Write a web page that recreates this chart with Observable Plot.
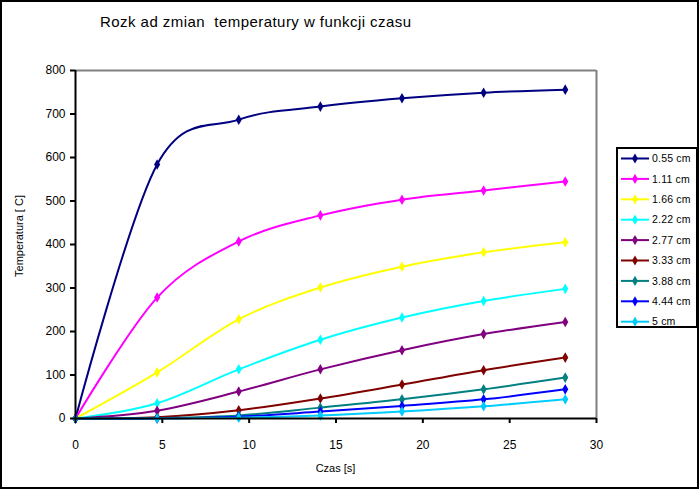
<!DOCTYPE html>
<html><head><meta charset="utf-8">
<script src="https://cdn.jsdelivr.net/npm/d3@7"></script>
<script src="https://cdn.jsdelivr.net/npm/@observablehq/plot@0.6"></script>
<style>body{margin:0;background:#fff} svg{display:block}</style>
</head><body><div id="chart"></div>
<script>
const titleText = "Rozk ad zmian  temperatury w funkcji czasu";
const xLabel = "Czas [s]";
const yLabel = "Temperatura [ C]";
const times = [0, 4.7, 9.4, 14.1, 18.8, 23.5, 28.2];
const seriesNames = ["0.55 cm","1.11 cm","1.66 cm","2.22 cm","2.77 cm","3.33 cm","3.88 cm","4.44 cm","5 cm"];
const s055 = [0, 584, 687, 717, 736, 749, 756];
const s111 = [0, 278, 407, 467, 503, 524, 545];
const s166 = [0, 106, 228, 301, 349, 382, 405];
const s222 = [0, 35, 113, 181, 232, 270, 298];
const s277 = [0, 18, 62, 113, 157, 194, 222];
const s333 = [0, 3, 19, 46, 78, 111, 140];
const s388 = [0, 1, 7, 25, 44, 67, 94];
const s444 = [0, 0, 4, 16, 29, 44, 67];
const s500 = [0, 0, 2, 7, 16, 28, 44];
const seriesValues = [s055, s111, s166, s222, s277, s333, s388, s444, s500];
const colors = ["#000080","#FF00FF","#FFFF00","#00FFFF","#800080","#800000","#008080","#0000FF","#00CCFF"];
const xTicks = [0,5,10,15,20,25,30];
const yTicks = [0,100,200,300,400,500,600,700,800];

const data = [];
seriesNames.forEach((name, i) => {
  seriesValues[i].forEach((v, j) => data.push({series: name, t: times[j], temp: v}));
});

const W = 700, H = 490;
const plot = Plot.plot({
  width: W, height: H,
  marginLeft: 75, marginRight: 104, marginTop: 70, marginBottom: 72,
  style: {fontFamily: "'Liberation Sans', Arial, sans-serif", fontSize: "12px", background: "#fff", color: "#000"},
  x: {domain: [0, 30], label: null},
  y: {domain: [0, 800], label: null},
  color: {domain: seriesNames, range: colors},
  marks: [
    Plot.ruleY([800], {stroke: "#808080", strokeWidth: 2}),
    Plot.ruleX([30], {stroke: "#808080", strokeWidth: 2}),
    Plot.line(data, {x: "t", y: "temp", z: "series", stroke: "series", curve: d3.curveCardinal.tension(0), strokeWidth: 2}),
    Plot.dot(data, {x: "t", y: "temp", fill: "series", symbol: "diamond", r: 3.2}),
    Plot.axisX({ticks: xTicks, tickSize: 5, tickPadding: 17, fontSize: 12, stroke: "#000", strokeWidth: 2}),
    Plot.axisY({ticks: yTicks, tickSize: 5, tickPadding: 5, fontSize: 12, stroke: "#000", strokeWidth: 2}),
    Plot.ruleY([0], {stroke: "#000", strokeWidth: 2}),
    Plot.ruleX([0], {stroke: "#000", strokeWidth: 2})
  ]
});

const svg = d3.select(plot);
const font = "'Liberation Sans', Arial, sans-serif";
svg.append("rect").attr("x", 1).attr("y", 1).attr("width", W - 3).attr("height", H - 3)
  .attr("fill", "none").attr("stroke", "#000").attr("stroke-width", 2);
svg.append("text").attr("x", 100).attr("y", 27).attr("text-anchor", "start").attr("font-family", font)
  .attr("font-size", 15).attr("letter-spacing", 0.45).attr("fill", "#000").text(titleText);
svg.append("text").attr("x", 335.5).attr("y", 472).attr("text-anchor", "middle").attr("font-family", font)
  .attr("font-size", 11).attr("fill", "#000").text(xLabel);
svg.append("text").attr("transform", "translate(23,236) rotate(-90)").attr("text-anchor", "middle")
  .attr("font-family", font).attr("font-size", 11).attr("fill", "#000").text(yLabel);

// legend
const color = plot.scale("color");
const lg = svg.append("g");
lg.append("rect").attr("x", 617).attr("y", 148).attr("width", 80).attr("height", 179)
  .attr("fill", "#fff").attr("stroke", "#000").attr("stroke-width", 2);
seriesNames.forEach((name, i) => {
  const y = 158.5 + i * 20.4;
  const c = colors[color.domain.indexOf(name)];
  lg.append("line").attr("x1", 621).attr("x2", 649).attr("y1", y).attr("y2", y)
    .attr("stroke", c).attr("stroke-width", 2);
  lg.append("path").attr("d", d3.symbol(d3.symbolDiamond, 30)()).attr("transform", `translate(635,${y})`).attr("fill", c);
  lg.append("text").attr("x", 652).attr("y", y).attr("dy", "0.35em").attr("text-anchor", "start").attr("font-family", font)
    .attr("font-size", 10.5).attr("letter-spacing", 0.2).attr("fill", "#000").text(name);
});

document.getElementById("chart").appendChild(plot);
</script>
</body></html>
